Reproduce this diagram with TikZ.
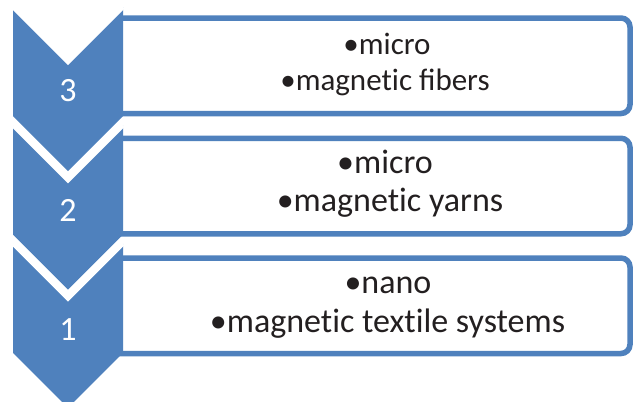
\documentclass[tikz,border=0pt]{standalone}
\usepackage{fontspec}
\setmainfont{Carlito}
\definecolor{sablue}{HTML}{4F81BD}
\definecolor{txt}{HTML}{231F20}
\begin{document}
\begin{tikzpicture}[x=1pt,y=-1pt,
  box/.style={draw=sablue, line width=5.5pt, fill=white, rounded corners=9pt, rectangle, inner sep=0pt, minimum width=520pt, minimum height=95.5pt},
  chev/.style={fill=sablue},
  gapline/.style={draw=white, line width=4pt, miter limit=10},
  num/.style={text=white, font=\fontsize{34}{34}\selectfont, anchor=base, inner sep=0pt},
  big/.style={text=txt, font=\fontsize{34}{34}\selectfont, anchor=base, inner sep=0pt},
  small/.style={text=txt, font=\fontsize{31}{31}\selectfont, anchor=base, inner sep=0pt}]
\useasboundingbox (0,0) rectangle (633,402);
% boxes
\node[box] (b3) at (370,65.75) {};
\node[box] (b2) at (370,186) {};
\node[box] (b1) at (370,305.75) {};
% chevrons
\foreach \T/\nm in {7.2/c3,125.5/c2,243.8/c1}{
  \fill[chev] (13,\T) -- (68,\T+55) -- (123,\T) -- (123,\T+109) -- (68,\T+164) -- (13,\T+109) -- cycle;
  \draw[gapline] (13,\T) -- (68,\T+55) -- (123,\T);
}
% numbers
\node[num] (n3) at (68,101.7) {3};
\node[num] (n2) at (68,221) {2};
\node[num] (n1) at (68,340) {1};
% texts
\node[small] (t3a) at (387,54.5) {•micro};
\node[small] (t3b) at (385,90) {•magnet\kern0pt ic fibers};
\node[big] (t2a) at (385,173.3) {•micro};
\node[big] (t2b) at (390,211.7) {•magnet\kern0pt ic yarns};
\node[big] (t1a) at (388,293.3) {•nano};
\node[big] (t1b) at (387.5,332.7) {•magnet\kern0pt ic text\kern0pt ile systems};
\end{tikzpicture}
\end{document}
